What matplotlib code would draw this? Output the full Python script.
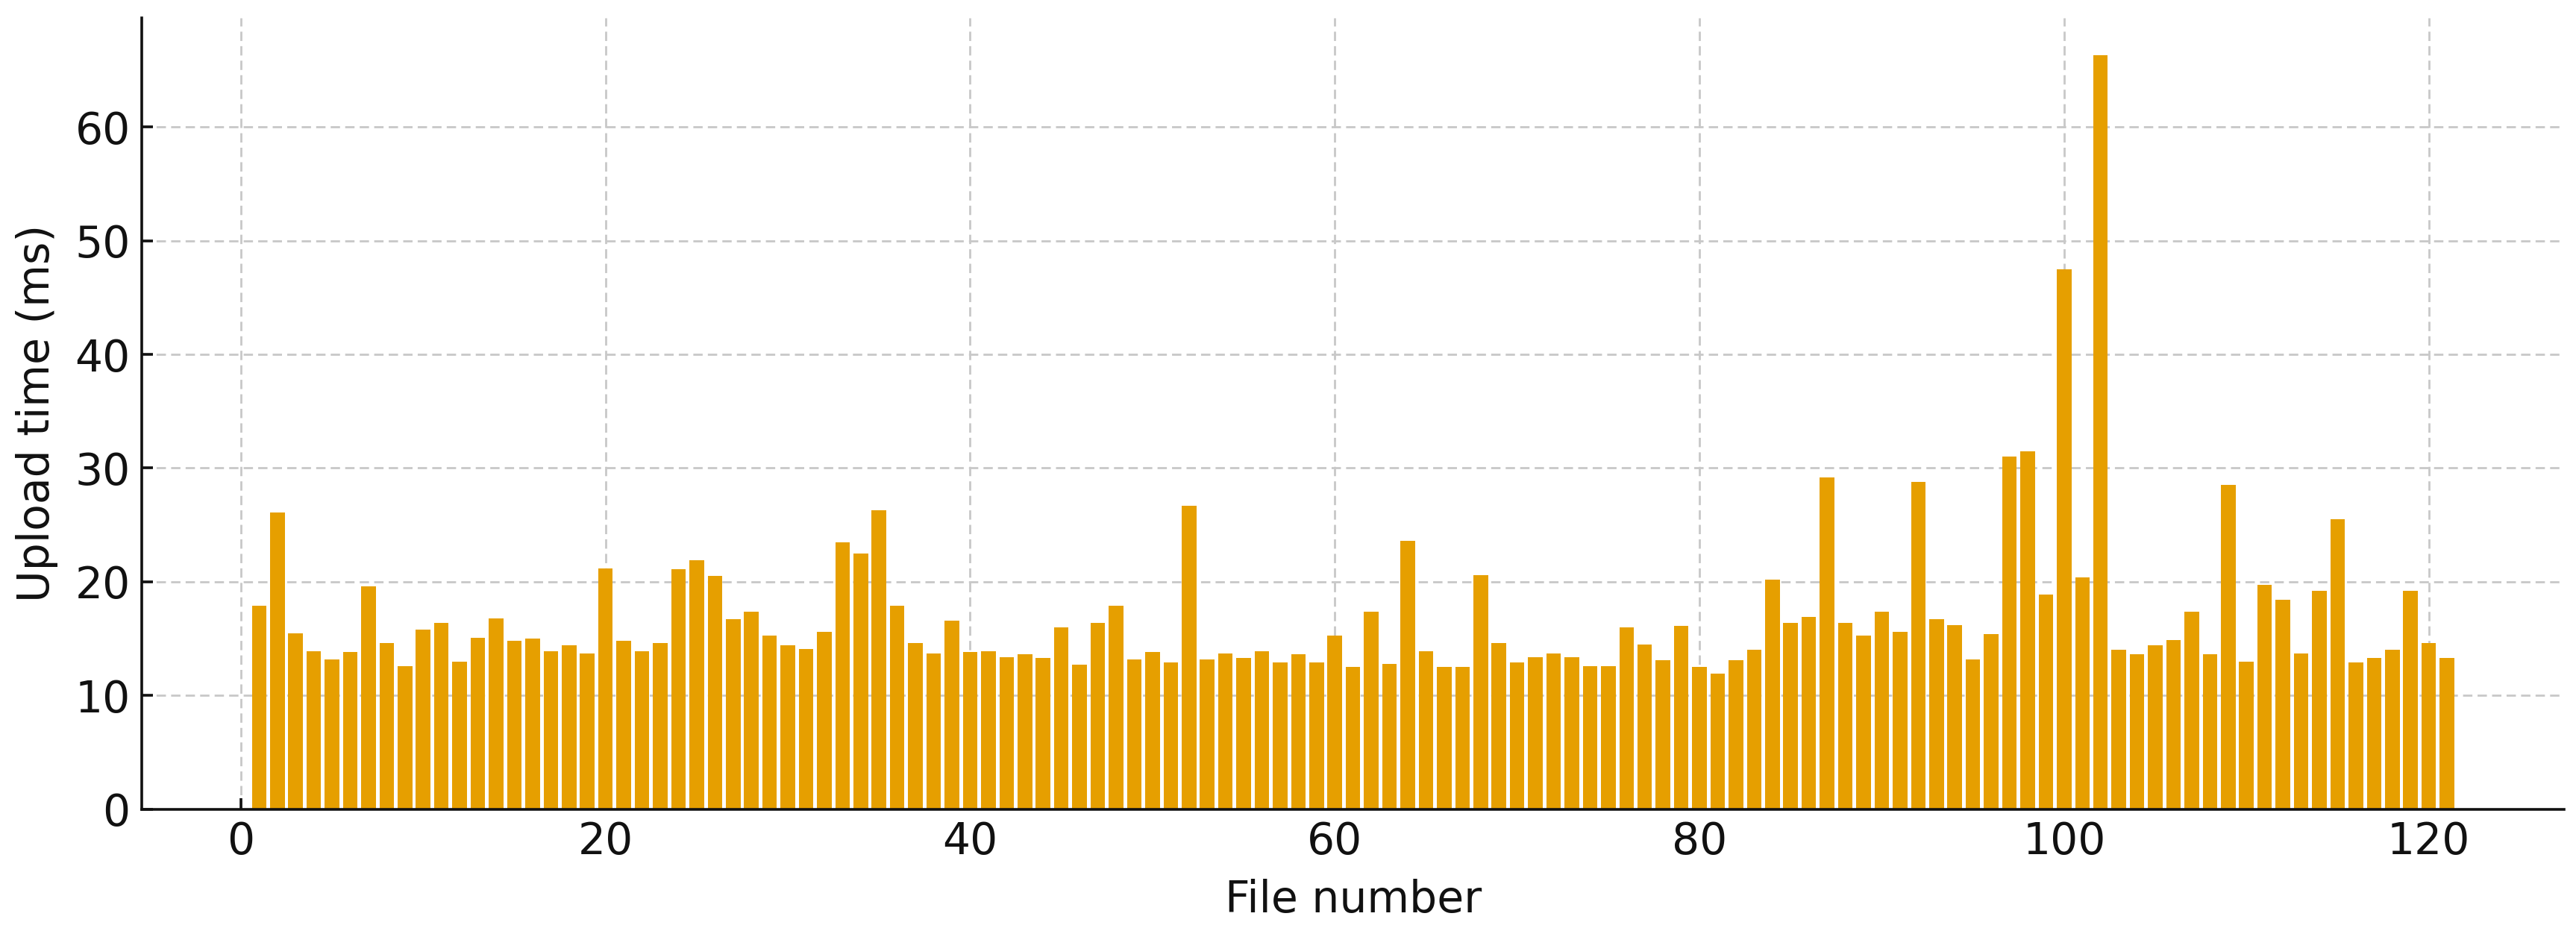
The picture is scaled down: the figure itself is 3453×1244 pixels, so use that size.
import matplotlib
matplotlib.use("Agg")
import matplotlib.pyplot as plt

file_numbers = list(range(1, 122))
upload_ms = [
    17.9, 26.1, 15.5, 13.9, 13.2, 13.8, 19.6, 14.6, 12.6, 15.8,
    16.4, 13.0, 15.1, 16.8, 14.8, 15.0, 13.9, 14.4, 13.7, 21.2,
    14.8, 13.9, 14.6, 21.1, 21.9, 20.5, 16.7, 17.4, 15.3, 14.4,
    14.1, 15.6, 23.5, 22.5, 26.3, 17.9, 14.6, 13.7, 16.6, 13.8,
    13.9, 13.4, 13.6, 13.3, 16.0, 12.7, 16.4, 17.9, 13.2, 13.8,
    12.9, 26.7, 13.2, 13.7, 13.3, 13.9, 12.9, 13.6, 12.9, 15.3,
    12.5, 17.4, 12.8, 23.6, 13.9, 12.5, 12.5, 20.6, 14.6, 12.9,
    13.4, 13.7, 13.4, 12.6, 12.6, 16.0, 14.5, 13.1, 16.1, 12.5,
    11.9, 13.1, 14.0, 20.2, 16.4, 16.9, 29.2, 16.4, 15.3, 17.4,
    15.6, 28.8, 16.7, 16.2, 13.2, 15.4, 31.0, 31.5, 18.9, 47.5,
    20.4, 66.3, 14.0, 13.6, 14.4, 14.9, 17.4, 13.6, 28.5, 13.0,
    19.7, 18.4, 13.7, 19.2, 25.5, 12.9, 13.3, 14.0, 19.2, 14.6,
    13.3,
]
x_ticks = [0, 20, 40, 60, 80, 100, 120]
y_ticks = [0, 10, 20, 30, 40, 50, 60]
x_label = "File number"
y_label = "Upload time (ms)"

DPI = 200
fig = plt.figure(figsize=(3453 / DPI, 1244 / DPI), dpi=DPI)
ax = fig.add_axes([0.055, 0.128, 0.9405, 0.853])

ax.bar(file_numbers, upload_ms, width=0.8, color="#E69F00", edgecolor="none", zorder=2)

ax.set_xticks(x_ticks)
ax.set_yticks(y_ticks)
ax.grid(True, linestyle=(0, (4.5, 2.5)), color="#c8c8c8", linewidth=1.0, zorder=0)
ax.set_axisbelow(True)

for s in ["top", "right"]:
    ax.spines[s].set_visible(False)
for s in ["left", "bottom"]:
    ax.spines[s].set_linewidth(1.3)
    ax.spines[s].set_color("#111111")

ax.tick_params(axis="both", direction="in", length=5.5, width=1.3, labelsize=21, pad=5.5, colors="#111111")
ax.set_xlabel(x_label, fontsize=21, color="#111111", labelpad=7.5)
ax.set_ylabel(y_label, fontsize=21, color="#111111", labelpad=8)

fig.savefig("out.png", dpi=DPI)
